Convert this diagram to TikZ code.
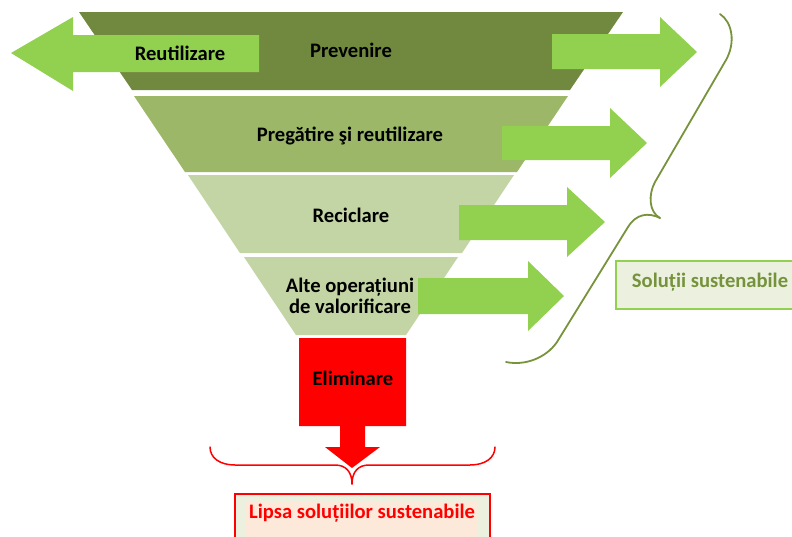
\documentclass[tikz,border=0pt]{standalone}
\usepackage{fontspec}
\setmainfont{Carlito}
\definecolor{lay1}{HTML}{71893F}
\definecolor{lay2}{HTML}{9BB767}
\definecolor{lay3}{HTML}{C3D5A4}
\definecolor{arrowgreen}{HTML}{92D050}
\definecolor{bracegreen}{HTML}{77933C}
\definecolor{boxgreen}{HTML}{EBF1DE}
\definecolor{peach}{HTML}{FDE9D9}
\definecolor{textolive}{HTML}{76923C}
\begin{document}
\begin{tikzpicture}[x=1pt,y=-1pt,
  lbl/.style={font=\fontsize{20.6}{21}\selectfont\bfseries, text=black, inner sep=0pt, align=center},
  garrow/.style={fill=arrowgreen, draw=none},
  gbrace/.style={draw=bracegreen, line width=1.8pt, line cap=round},
  rbrace/.style={draw=red, line width=1.5pt, line cap=round}]
\useasboundingbox (0,0) rectangle (792,536);
\clip (0,0) rectangle (792,536);
% funnel layers
\fill[lay1] (79,12) -- (623,12) -- (570,90) -- (132,90) -- cycle;
\fill[lay2] (134,96) -- (568,96) -- (517,172) -- (185,172) -- cycle;
\fill[lay3] (188,175) -- (514,175) -- (462,253) -- (240,253) -- cycle;
\fill[lay3] (244,257) -- (458,257) -- (406,335) -- (296,335) -- cycle;
% left arrow
\path[garrow] (11,53) -- (73,17) -- (73,35) -- (259,35) -- (259,72) -- (73,72) -- (73,91) -- cycle;
% right arrows
\path[garrow] (552,34) -- (660,34) -- (660,17) -- (697,52) -- (660,87) -- (660,69) -- (552,69) -- cycle;
\path[garrow] (502,126) -- (610,126) -- (610,108) -- (647,143) -- (610,178) -- (610,160) -- (502,160) -- cycle;
\path[garrow] (459,205) -- (567,205) -- (567,187) -- (605,222) -- (567,257) -- (567,240) -- (459,240) -- cycle;
\path[garrow] (418,278) -- (528,278) -- (528,261) -- (564,296) -- (528,331) -- (528,314) -- (418,314) -- cycle;
% red eliminate shape
\fill[red] (299,338) -- (406,338) -- (406,426) -- (365,426) -- (365,447) -- (380,447) -- (352,468) -- (325,447) -- (340,447) -- (340,426) -- (299,426) -- cycle;
% green brace
\draw[gbrace] (720,14) .. controls (732,22) and (736,42) .. (726,60) -- (655,182) .. controls (648,195) and (649,212) .. (660,218);
\draw[gbrace] (660,218) .. controls (648,212) and (636,214) .. (628,227) -- (557,342) .. controls (546,358) and (525,366) .. (506,362);
% red brace
\draw[rbrace] (210,447) .. controls (210,458) and (220,465) .. (235,465) -- (335,465) .. controls (346,465) and (352,472) .. (352,484);
\draw[rbrace] (495,447) .. controls (495,458) and (485,465) .. (470,465) -- (369,465) .. controls (358,465) and (352,472) .. (352,484);
% boxes
\filldraw[fill=boxgreen, draw=arrowgreen, line width=2.5pt] (616,261) rectangle (800,309);
\filldraw[fill=boxgreen, draw=red, line width=2.2pt] (235,494) rectangle (490,550);
\fill[peach] (245,502) rectangle (478,550);
% labels
\node[lbl] (reut) at (180,53) {Reutilizare};
\node[lbl] (prev) at (351,50) {Prevenire};
\node[lbl] (preg) at (350,136) {Pregătire şi reutilizare};
\node[lbl] (recic) at (351,215) {Reciclare};
\node[lbl] (alte) at (350,296) {Alte operațiuni\\de valorificare};
\node[lbl] (elim) at (353,378) {Eliminare};
\node[lbl, text=textolive] (sol) at (710,282) {Soluții sustenabile};
\node[lbl, text=red] (lipsa) at (362,513) {Lipsa soluțiilor sustenabile};
\end{tikzpicture}
\end{document}
